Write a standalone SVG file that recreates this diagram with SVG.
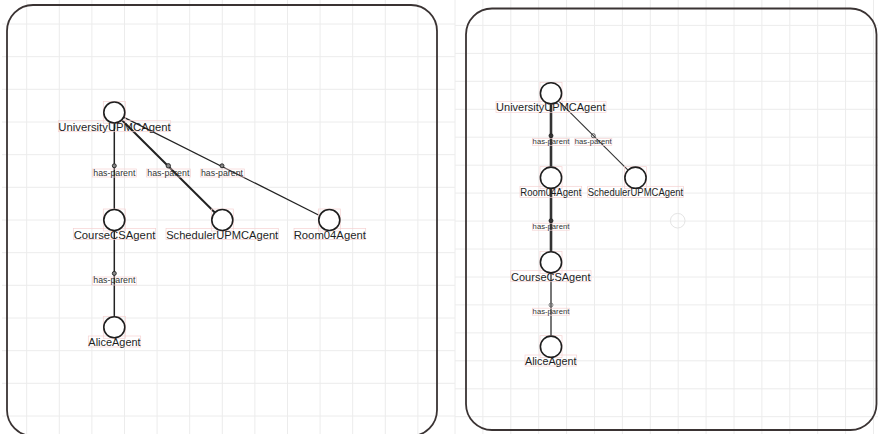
<svg xmlns="http://www.w3.org/2000/svg" width="878" height="434" viewBox="0 0 878 434">
<style>
.grid line{stroke:#ececec;stroke-width:1}
.panel{fill:none;stroke:#3a3333;stroke-width:1.8}
.node circle{fill:#fff;stroke:#1e1e1e;stroke-width:1.6}
.box{fill:none;stroke:#f5d2d2;stroke-width:0.7}
.lbl{font-family:"Liberation Sans",Arial,sans-serif;fill:#1e1e1e;text-anchor:middle}
.nl{font-size:11.3px}
.nr{font-size:11px}
.el{font-size:8.8px;fill:#333}
.er{font-size:7.7px;fill:#333}
.mk{fill:#888;stroke:#222;stroke-width:0.9}
</style>
<rect width="878" height="434" fill="#fff"/>
<g class="grid">
<line x1="26.7" y1="0" x2="26.7" y2="434"/><line x1="59.3" y1="0" x2="59.3" y2="434"/><line x1="91.9" y1="0" x2="91.9" y2="434"/><line x1="124.5" y1="0" x2="124.5" y2="434"/><line x1="157.1" y1="0" x2="157.1" y2="434"/><line x1="189.7" y1="0" x2="189.7" y2="434"/><line x1="222.3" y1="0" x2="222.3" y2="434"/><line x1="254.9" y1="0" x2="254.9" y2="434"/><line x1="287.5" y1="0" x2="287.5" y2="434"/><line x1="320.1" y1="0" x2="320.1" y2="434"/><line x1="352.7" y1="0" x2="352.7" y2="434"/><line x1="385.3" y1="0" x2="385.3" y2="434"/><line x1="417.9" y1="0" x2="417.9" y2="434"/>
<line x1="2" y1="24" x2="455" y2="24"/><line x1="2" y1="56.7" x2="455" y2="56.7"/><line x1="2" y1="89.3" x2="455" y2="89.3"/><line x1="2" y1="122" x2="455" y2="122"/><line x1="2" y1="154.7" x2="455" y2="154.7"/><line x1="2" y1="187.3" x2="455" y2="187.3"/><line x1="2" y1="220" x2="455" y2="220"/><line x1="2" y1="252.7" x2="455" y2="252.7"/><line x1="2" y1="285.3" x2="455" y2="285.3"/><line x1="2" y1="318" x2="455" y2="318"/><line x1="2" y1="350.7" x2="455" y2="350.7"/><line x1="2" y1="383.3" x2="455" y2="383.3"/><line x1="2" y1="416" x2="455" y2="416"/>
<line x1="455" y1="0" x2="455" y2="434"/><line x1="482.9" y1="0" x2="482.9" y2="434"/><line x1="510.8" y1="0" x2="510.8" y2="434"/><line x1="538.7" y1="0" x2="538.7" y2="434"/><line x1="566.6" y1="0" x2="566.6" y2="434"/><line x1="594.5" y1="0" x2="594.5" y2="434"/><line x1="622.4" y1="0" x2="622.4" y2="434"/><line x1="650.3" y1="0" x2="650.3" y2="434"/><line x1="678.2" y1="0" x2="678.2" y2="434"/><line x1="706.1" y1="0" x2="706.1" y2="434"/><line x1="734" y1="0" x2="734" y2="434"/><line x1="761.9" y1="0" x2="761.9" y2="434"/><line x1="789.8" y1="0" x2="789.8" y2="434"/><line x1="817.7" y1="0" x2="817.7" y2="434"/><line x1="845.6" y1="0" x2="845.6" y2="434"/><line x1="873.5" y1="0" x2="873.5" y2="434"/>
<line x1="455" y1="25.4" x2="878" y2="25.4"/><line x1="455" y1="53.4" x2="878" y2="53.4"/><line x1="455" y1="81.3" x2="878" y2="81.3"/><line x1="455" y1="109.3" x2="878" y2="109.3"/><line x1="455" y1="137.2" x2="878" y2="137.2"/><line x1="455" y1="165.2" x2="878" y2="165.2"/><line x1="455" y1="193.1" x2="878" y2="193.1"/><line x1="455" y1="221.1" x2="878" y2="221.1"/><line x1="455" y1="249" x2="878" y2="249"/><line x1="455" y1="277" x2="878" y2="277"/><line x1="455" y1="304.9" x2="878" y2="304.9"/><line x1="455" y1="332.9" x2="878" y2="332.9"/><line x1="455" y1="360.8" x2="878" y2="360.8"/><line x1="455" y1="388.8" x2="878" y2="388.8"/><line x1="455" y1="416.7" x2="878" y2="416.7"/>
</g>
<rect id="panel-left" class="panel" x="7" y="5" width="430" height="431" rx="26"/>
<rect id="panel-right" class="panel" x="466" y="8.5" width="410.5" height="421.5" rx="26"/>
<circle cx="677.7" cy="220.7" r="7.3" fill="none" stroke="#e4e4e4" stroke-width="1"/>
<g id="connectors">
<line x1="114.3" y1="123" x2="114.3" y2="209.5" stroke="#222" stroke-width="1.5"/>
<line x1="121.8" y1="120" x2="214.8" y2="212.5" stroke="#222" stroke-width="2"/>
<line x1="124" y1="117.3" x2="318.5" y2="215" stroke="#222" stroke-width="1.3"/>
<line x1="114.3" y1="230.5" x2="114.3" y2="317" stroke="#222" stroke-width="1.5"/>
<rect class="box" x="92.3" y="169" width="44" height="8"/>
<rect class="box" x="146.3" y="169" width="44" height="8"/>
<rect class="box" x="200.3" y="169" width="44" height="8"/>
<rect class="box" x="92.3" y="277" width="44" height="8"/>
<circle class="mk" cx="114.3" cy="165.8" r="2"/>
<circle class="mk" cx="168.3" cy="165.8" r="2.2" fill="#555"/>
<circle class="mk" cx="222" cy="165.8" r="2"/>
<circle class="mk" cx="114.3" cy="273.4" r="2"/>
<text class="lbl el" x="114.3" y="175.6">has-parent</text>
<text class="lbl el" x="168.3" y="175.6">has-parent</text>
<text class="lbl el" x="222" y="175.6">has-parent</text>
<text class="lbl el" x="114.3" y="283.4">has-parent</text>
<line x1="551" y1="104" x2="551" y2="167" stroke="#333" stroke-width="2.6"/>
<line x1="558.5" y1="100.8" x2="628" y2="170.2" stroke="#333" stroke-width="1.1"/>
<line x1="551" y1="188.4" x2="551" y2="251.6" stroke="#333" stroke-width="2.6"/>
<line x1="551" y1="273" x2="551" y2="336" stroke="#777" stroke-width="2"/>
<rect class="box" x="532.3" y="138.3" width="37" height="7"/>
<rect class="box" x="574.8" y="138.3" width="37" height="7"/>
<rect class="box" x="532.3" y="223.2" width="37" height="7"/>
<rect class="box" x="532.3" y="308.2" width="37" height="7"/>
<circle cx="551" cy="135.7" r="2" fill="#333" stroke="#222" stroke-width="0.8"/>
<circle cx="593.3" cy="135.7" r="2" fill="none" stroke="#333" stroke-width="0.8"/>
<circle cx="551" cy="220.7" r="2" fill="#333" stroke="#222" stroke-width="0.8"/>
<circle cx="551" cy="305" r="2" fill="none" stroke="#666" stroke-width="0.8"/>
<text class="lbl er" x="551" y="144.4">has-parent</text>
<text class="lbl er" x="593.2" y="144.4">has-parent</text>
<text class="lbl er" x="551" y="229.3">has-parent</text>
<text class="lbl er" x="551" y="314.3">has-parent</text>
</g>
<g id="L-UniversityUPMCAgent" class="node">
<rect class="box" x="103.3" y="101.5" width="22" height="22"/><rect class="box" x="58.3" y="120.7" width="112.4" height="11"/>
<circle cx="114.3" cy="112.5" r="10.5"/>
<text class="lbl nl" x="114.5" y="131.3">UniversityUPMCAgent</text>
</g>
<g id="L-CourseCSAgent" class="node">
<rect class="box" x="103.3" y="209" width="22" height="22"/><rect class="box" x="73.3" y="228.5" width="82.4" height="11"/>
<circle cx="114.3" cy="220" r="10.5"/>
<text class="lbl nl" x="114.5" y="239">CourseCSAgent</text>
</g>
<g id="L-SchedulerUPMCAgent" class="node">
<rect class="box" x="211.3" y="209" width="22" height="22"/><rect class="box" x="166" y="228.5" width="112.3" height="11"/>
<circle cx="222.3" cy="220" r="10.5"/>
<text class="lbl nl" x="222.2" y="239" textLength="112" lengthAdjust="spacingAndGlyphs">SchedulerUPMCAgent</text>
</g>
<g id="L-Room04Agent" class="node">
<rect class="box" x="318.3" y="209" width="22" height="22"/><rect class="box" x="294" y="228.5" width="71.7" height="11"/>
<circle cx="329.3" cy="220" r="10.5"/>
<text class="lbl nl" x="329.8" y="239">Room04Agent</text>
</g>
<g id="L-AliceAgent" class="node">
<rect class="box" x="103.3" y="316.3" width="22" height="22"/><rect class="box" x="88.3" y="336" width="52.4" height="11"/>
<circle cx="114.3" cy="327.3" r="10.5"/>
<text class="lbl nl" x="114.5" y="346.4" textLength="52.3" lengthAdjust="spacingAndGlyphs">AliceAgent</text>
</g>
<g id="R-UniversityUPMCAgent" class="node">
<rect class="box" x="540" y="82.3" width="22" height="22"/><rect class="box" x="496" y="101.3" width="110" height="11"/>
<circle cx="551" cy="93.3" r="10.6"/>
<text class="lbl nr" x="550.8" y="111.3">UniversityUPMCAgent</text>
</g>
<g id="R-Room04Agent" class="node">
<rect class="box" x="540" y="166.7" width="22" height="22"/><rect class="box" x="520" y="186.3" width="61.7" height="11"/>
<circle cx="551" cy="177.7" r="10.6"/>
<text class="lbl nr" x="550.8" y="196.3" textLength="61" lengthAdjust="spacingAndGlyphs">Room04Agent</text>
</g>
<g id="R-SchedulerUPMCAgent" class="node">
<rect class="box" x="624.5" y="166.7" width="22" height="22"/><rect class="box" x="587.7" y="186.3" width="95.7" height="11"/>
<circle cx="635.5" cy="177.7" r="10.6"/>
<text class="lbl nr" x="635.5" y="196.3" textLength="95.5" lengthAdjust="spacingAndGlyphs">SchedulerUPMCAgent</text>
</g>
<g id="R-CourseCSAgent" class="node">
<rect class="box" x="540" y="251.3" width="22" height="22"/><rect class="box" x="510.7" y="270.7" width="80.3" height="11"/>
<circle cx="551" cy="262.3" r="10.6"/>
<text class="lbl nr" x="550.8" y="280.7">CourseCSAgent</text>
</g>
<g id="R-AliceAgent" class="node">
<rect class="box" x="540" y="335.7" width="22" height="22"/><rect class="box" x="525" y="355" width="51.7" height="11"/>
<circle cx="551" cy="346.7" r="10.6"/>
<text class="lbl nr" x="550.8" y="365" textLength="51.5" lengthAdjust="spacingAndGlyphs">AliceAgent</text>
</g>
</svg>
